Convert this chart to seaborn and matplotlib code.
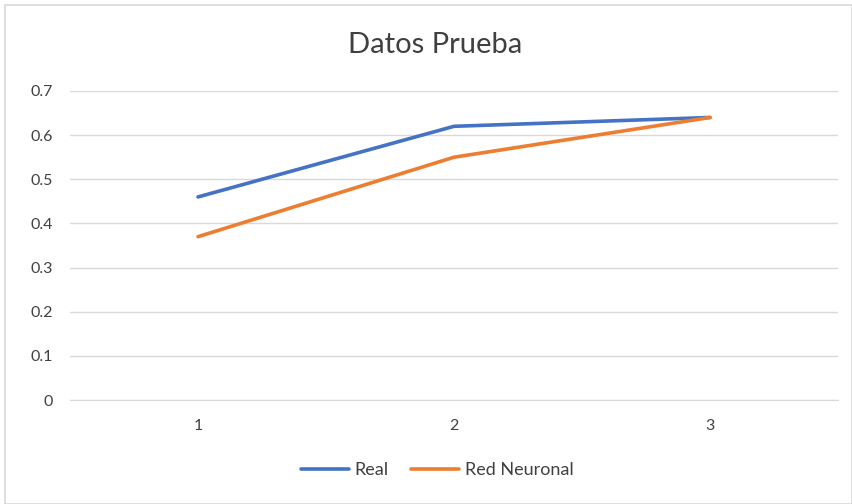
import matplotlib
matplotlib.use("Agg")
import matplotlib.pyplot as plt
import seaborn as sns
import pandas as pd
from matplotlib.patches import Rectangle

categories = [1, 2, 3]
real = [0.46, 0.62, 0.64]
red_neuronal = [0.37, 0.55, 0.64]
series_names = ["Real", "Red Neuronal"]
yticks = [0, 0.1, 0.2, 0.3, 0.4, 0.5, 0.6, 0.7]

df = pd.DataFrame({
    "x": categories * 2,
    "y": real + red_neuronal,
    "serie": [series_names[0]] * 3 + [series_names[1]] * 3,
})

sns.set_style("white")
plt.rcParams["font.family"] = ["Lato", "DejaVu Sans"]
text_color = "#404040"

fig = plt.figure(figsize=(8.52, 5.04), dpi=100)
ax = fig.add_axes([70 / 852, (504 - 400) / 504, (838 - 70) / 852, (400 - 91) / 504])

sns.lineplot(data=df, x="x", y="y", hue="serie",
             palette=["#4472C4", "#ED7D31"], linewidth=2.6, ax=ax,
             legend=True, solid_capstyle="round")

ax.set_xlim(0.5, 3.5)
ax.set_ylim(0, 0.7)
ax.set_yticks(yticks)
ax.set_yticklabels([f"{v:g}" for v in yticks])
ax.set_xticks(categories)
ax.set_xticklabels([str(c) for c in categories])
ax.yaxis.grid(True, color="#D9D9D9", linewidth=1)
ax.xaxis.grid(False)
for s in ["top", "right", "left"]:
    ax.spines[s].set_visible(False)
ax.spines["bottom"].set_color("#D9D9D9")
ax.tick_params(axis="both", length=0, labelsize=11.5, colors=text_color)
ax.tick_params(axis="y", pad=12)
ax.tick_params(axis="x", pad=14)
ax.set_xlabel("")
ax.set_ylabel("")

fig.text(435 / 852, (504 - 45) / 504, "Datos Prueba", ha="center", va="center",
         fontsize=21, color=text_color)

leg = ax.legend(loc="center", ncol=2, frameon=False,
                fontsize=13, handlelength=2.7, columnspacing=1.2,
                handletextpad=0.3)
leg.set_bbox_to_anchor((437 / 852, (504 - 470) / 504), transform=fig.transFigure)
for t in leg.get_texts():
    t.set_color(text_color)

fig.patches.append(Rectangle((5 / 852, 0), 1 - 5 / 852, 1 - 5 / 504,
                             transform=fig.transFigure, fill=False,
                             edgecolor="#D9D9D9", linewidth=1.2))

fig.savefig("out.png", dpi=100)
